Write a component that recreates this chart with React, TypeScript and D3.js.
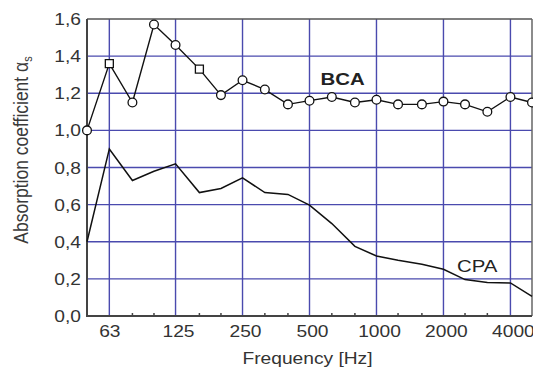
import React from "react";
import * as d3 from "d3";

const freqs = [50, 63, 80, 100, 125, 160, 200, 250, 315, 400, 500, 630, 800, 1000, 1250, 1600, 2000, 2500, 3150, 4000, 5000];
const bcaValues = [1.0, 1.36, 1.15, 1.57, 1.46, 1.33, 1.19, 1.27, 1.22, 1.14, 1.16, 1.18, 1.15, 1.165, 1.14, 1.14, 1.155, 1.14, 1.10, 1.18, 1.15];
const cpaValues = [0.4, 0.9, 0.73, 0.78, 0.82, 0.665, 0.687, 0.744, 0.665, 0.655, 0.597, 0.498, 0.375, 0.323, 0.30, 0.279, 0.252, 0.196, 0.18, 0.178, 0.106];
const bcaSquareFreqs = [63, 160];
const xTickLabels = [63, 125, 250, 500, 1000, 2000, 4000];
const yTicks = [0, 0.2, 0.4, 0.6, 0.8, 1.0, 1.2, 1.4, 1.6];

const W = 533, H = 369;
const left = 87, right = 532, top = 19, bottom = 316;
const FONT = "'Liberation Sans', Arial, Helvetica, sans-serif";
const SX = 1.2;
const GRID = "#4a4aae";
const TXT = "#333";

export default function App() {
  const x = d3.scaleLog().domain([50, 5000]).range([left, right]);
  const y = d3.scaleLinear().domain([0, 1.6]).range([bottom, top]);
  const line = d3.line<[number, number]>().x(d => x(d[0])).y(d => y(d[1]));
  const bca: [number, number][] = freqs.map((f, i) => [f, bcaValues[i]]);
  const cpa: [number, number][] = freqs.map((f, i) => [f, cpaValues[i]]);
  const circle = d3.symbol().type(d3.symbolCircle).size(60)()!;
  const square = d3.symbol().type(d3.symbolSquare).size(64)()!;
  const minorFreqs = freqs.filter(f => !xTickLabels.includes(f) && f !== 50 && f !== 5000);
  const fmt = (v: number) => v.toFixed(1).replace(".", ",");

  return (
    <svg width={W} height={H} style={{ position: "absolute", left: 0, top: 0 }} fontFamily={FONT}>
      <rect x={0} y={0} width={W} height={H} fill="#fff" />
      {/* grid */}
      {yTicks.filter(v => v > 0 && v < 1.6).map(v => (
        <line key={"gy" + v} x1={left} x2={right} y1={y(v)} y2={y(v)} stroke={GRID} strokeWidth={1.4} />
      ))}
      {xTickLabels.map(f => (
        <line key={"gx" + f} x1={x(f)} x2={x(f)} y1={top} y2={bottom} stroke={GRID} strokeWidth={1.4} />
      ))}
      {/* frame */}
      <line x1={left} x2={right} y1={top} y2={top} stroke="#555" strokeWidth={1.5} />
      <line x1={right} x2={right} y1={top} y2={bottom} stroke="#666" strokeWidth={1.5} />
      <line x1={left} x2={left} y1={top} y2={bottom + 1} stroke="#444" strokeWidth={2} />
      <line x1={left - 1} x2={right} y1={bottom} y2={bottom} stroke="#444" strokeWidth={2} />
      {minorFreqs.map(f => (
        <line key={"mt" + f} x1={x(f)} x2={x(f)} y1={bottom} y2={bottom - 3} stroke="#444" strokeWidth={1.5} />
      ))}
      {/* series */}
      <path d={line(cpa)!} fill="none" stroke="#111" strokeWidth={1.5} />
      <path d={line(bca)!} fill="none" stroke="#111" strokeWidth={1.4} />
      {bca.map(([f, v]) => (
        <path key={"m" + f} d={bcaSquareFreqs.includes(f) ? square : circle}
          transform={`translate(${x(f)},${y(v)})`} fill="#fff" stroke="#111" strokeWidth={1.3} />
      ))}
      {/* y tick labels */}
      {yTicks.map(v => (
        <text key={"yl" + v} transform={`translate(81,${y(v) + 6}) scale(${SX},1)`} textAnchor="end"
          fontSize={16} fill={TXT}>{fmt(v)}</text>
      ))}
      {/* x tick labels */}
      {xTickLabels.map(f => (
        <text key={"xl" + f} transform={`translate(${x(f) + (f > 63 ? 3 : 0.5)},336.5) scale(${SX},1)`} textAnchor="middle"
          fontSize={16} fill={TXT}>{f}</text>
      ))}
      <text transform={`translate(307.5,363.5) scale(${SX},1)`} textAnchor="middle" fontSize={16} fill={TXT}>Frequency [Hz]</text>
      <text transform={`translate(27.5,150) scale(${SX},1) rotate(-90)`} textAnchor="middle" fontSize={17.5} fill="#3a3a3a">
        Absorption coefficient α<tspan fontSize={11} dy={4}>s</tspan>
      </text>
      {/* series labels */}
      <text transform={`translate(320.5,84.5) scale(${SX},1)`} fontSize={17} fontWeight="bold" fill="#222">BCA</text>
      <text transform={`translate(457,271.5) scale(${SX},1)`} fontSize={17} fill="#222">CPA</text>
    </svg>
  );
}
